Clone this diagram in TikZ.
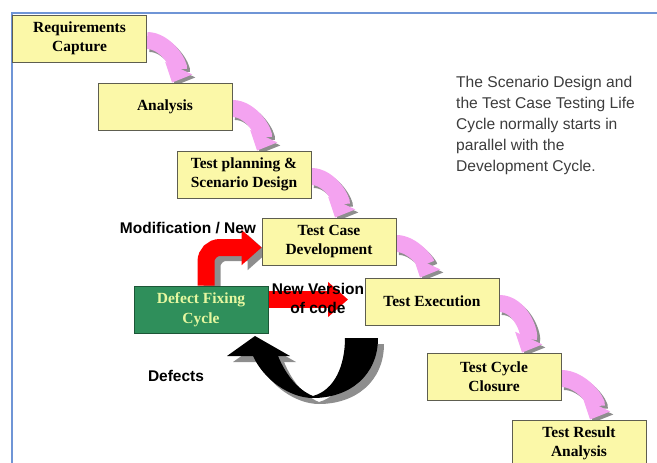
\documentclass[tikz,border=0pt]{standalone}
\usepackage{fontspec}
\setmainfont{Liberation Serif}
\setsansfont{Liberation Sans}
\usetikzlibrary{arrows.meta,backgrounds}

\definecolor{stagefill}{HTML}{FBF8A8}
\definecolor{stageline}{HTML}{5E5E50}
\definecolor{fixfill}{HTML}{2F8F5B}
\definecolor{fixtext}{HTML}{E6F7A0}
\definecolor{flowpink}{HTML}{F4A3F0}
\definecolor{shadowgray}{HTML}{8E8E8E}
\definecolor{frameblue}{HTML}{6F95D6}
\definecolor{notegray}{HTML}{3C3C3C}

\begin{document}
\begin{tikzpicture}[x=1pt, y=1pt,
    stage/.style={draw=stageline, fill=stagefill, line width=0.8pt, minimum width=134pt,
        minimum height=47pt, inner sep=0pt, align=center,
        font=\bfseries\fontsize{15.5}{19.5}\selectfont},
    fixstage/.style={stage, fill=fixfill, draw=fixfill!60!black, text=fixtext},
    flow/.style={line width=17pt, flowpink, -{Triangle[length=16pt, width=29pt]}},
    flowshadow/.style={flow, shadowgray, transform canvas={shift={(3pt,-3pt)}}},
    fixarrow/.style={line width=17pt, red, -{Triangle[length=20pt, width=34pt]}},
    note/.style={font=\sffamily\bfseries\fontsize{15.5}{19}\selectfont, align=center, inner sep=0pt},
    remark/.style={font=\sffamily\fontsize{15.6}{20.8}\selectfont, text=notegray, align=left, inner sep=0pt}]
    \useasboundingbox (0,0) rectangle (657,-463);

    % the stages of the cycle
    \node [stage] (req) at (79.5,-38.5) {Requirements\\Capture};
    \node [stage] (ana) at (165,-106.5) {Analysis};
    \node [stage] (tp)  at (244,-174.5) {Test planning \&\\Scenario Design};
    \node [stage] (tcd) at (329,-241.5) {Test Case\\Development};
    \node [stage] (exe) at (432,-301.5) {Test Execution};
    \node [stage] (clo) at (494,-376.5) {Test Cycle\\Closure};
    \node [stage] (res) at (579,-443.5) {Test Result\\Analysis};
    \node [fixstage] (dfc) at (201,-309.5) {Defect Fixing\\Cycle};

    \begin{scope}[on background layer]
        \draw [frameblue, line width=2pt] (12,-463) -- (12,-13) -- (657,-13);

        % pink steps down the waterfall
        \foreach \a/\b/\dx in {req/ana/7, ana/tp/13, tp/tcd/6, tcd/exe/-12, exe/clo/28, clo/res/11} {
            \draw [flowshadow] ([yshift=-2pt]\a.east) to[out=0, in=65] ([xshift=\dx pt]\b.north);
            \draw [flow] ([yshift=-2pt]\a.east) to[out=0, in=65] ([xshift=\dx pt]\b.north);
        }

        % back into test case development
        \draw [fixarrow, shadowgray, rounded corners=14pt, transform canvas={shift={(6pt,-5pt)}}]
            ([xshift=5pt]dfc.north) |- ([yshift=-6pt]tcd.west);
        \draw [fixarrow, rounded corners=14pt] ([xshift=5pt]dfc.north) |- ([yshift=-6pt]tcd.west);

        % new version of code
        \coordinate (vtip) at (348,-299.5);
        \draw [fixarrow] (dfc.east |- vtip) -- (vtip);

        % defects loop
        \foreach \s/\c in {6/shadowgray, 0/black}
            \fill [\c, shift={(\s,-\s)}] (378,-338) .. controls (378,-375) and (350,-398) .. (313,-398)
                .. controls (290,-398) and (264,-380) .. (253,-356) -- (227,-356) -- (255,-336)
                -- (290,-356) -- (278,-356) .. controls (286,-375) and (298,-390) .. (313,-396)
                .. controls (335,-390) and (345,-365) .. (345,-338) -- cycle;
    \end{scope}

    \node [note] (modlbl) at (188,-228) {Modification / New};
    \node [note] (vlbl) at (318,-298) {New Version\\of code};
    \node [note] (deflbl) at (176,-376) {Defects};
    \node [remark, anchor=west] (scenario) at (456,-125.5)
        {The Scenario Design and\\the Test Case Testing Life\\Cycle normally starts in\\parallel with the\\Development Cycle.};
\end{tikzpicture}
\end{document}
